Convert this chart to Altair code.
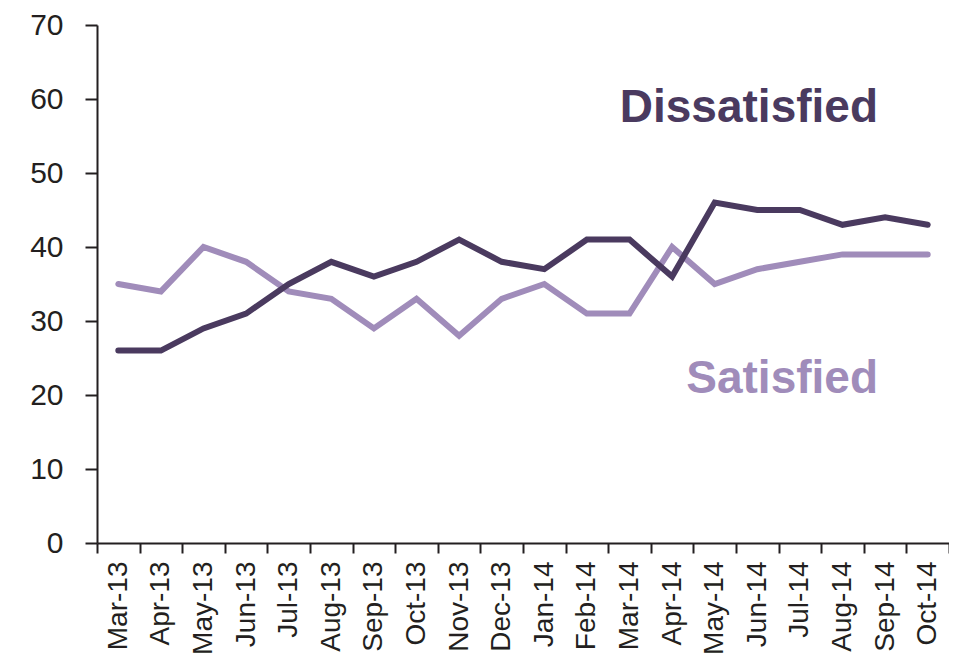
import altair as alt
import pandas as pd

months = ["Mar-13", "Apr-13", "May-13", "Jun-13", "Jul-13", "Aug-13", "Sep-13",
          "Oct-13", "Nov-13", "Dec-13", "Jan-14", "Feb-14", "Mar-14", "Apr-14",
          "May-14", "Jun-14", "Jul-14", "Aug-14", "Sep-14", "Oct-14"]
dissatisfied = [26, 26, 29, 31, 35, 38, 36, 38, 41, 38, 37, 41, 41, 36, 46, 45, 45, 43, 44, 43]
satisfied = [35, 34, 40, 38, 34, 33, 29, 33, 28, 33, 35, 31, 31, 40, 35, 37, 38, 39, 39, 39]
y_ticks = [0, 10, 20, 30, 40, 50, 60, 70]

DARK = "#4a3a5f"
LIGHT = "#a08cba"
FONT = "Liberation Sans"

df = pd.DataFrame({"month": months, "Dissatisfied": dissatisfied, "Satisfied": satisfied})

x_enc = alt.X(
    "month:N",
    sort=months,
    scale=alt.Scale(type="band", paddingInner=0, paddingOuter=0),
    axis=alt.Axis(
        title=None, labelAngle=270, tickBand="extent", labelFontSize=28,
        labelFont=FONT, labelColor="#231f20", tickSize=10, labelPadding=8,
        domainColor="#231f20", tickColor="#231f20", domainWidth=2, tickWidth=2,
    ),
)

def y_enc(field):
    return alt.Y(
        f"{field}:Q",
        scale=alt.Scale(domain=[0, 70], nice=False, zero=True),
        axis=alt.Axis(
            title=None, values=y_ticks, grid=False, labelFontSize=30,
            labelFont=FONT, labelColor="#231f20", tickSize=12, labelPadding=22,
            domainColor="#231f20", tickColor="#231f20", domainWidth=2, tickWidth=2,
        ),
    )

base = alt.Chart(df)
sat_line = base.mark_line(color=LIGHT, strokeWidth=6, strokeCap="round", strokeJoin="miter").encode(
    x=x_enc, y=y_enc("Satisfied"))
dis_line = base.mark_line(color=DARK, strokeWidth=6, strokeCap="round", strokeJoin="miter").encode(
    x=x_enc, y=y_enc("Dissatisfied"))

lab_dis = alt.Chart(pd.DataFrame({"label": ["Dissatisfied"]})).mark_text(
    font=FONT, fontSize=46, fontWeight="bold", color=DARK, align="right", baseline="alphabetic"
).encode(text="label:N", x=alt.value(781), y=alt.value(97))

lab_sat = alt.Chart(pd.DataFrame({"label": ["Satisfied"]})).mark_text(
    font=FONT, fontSize=46, fontWeight="bold", color=LIGHT, align="right", baseline="alphabetic"
).encode(text="label:N", x=alt.value(781), y=alt.value(368))

chart = alt.layer(sat_line, dis_line, lab_dis, lab_sat).properties(
    width=852, height=518,
    autosize=alt.AutoSizeParams(type="none"),
    padding={"left": 89, "top": 17, "right": 0, "bottom": 116},
).configure_view(stroke=None)

chart.save("out.html", embed_options={"renderer": "svg", "actions": False})
